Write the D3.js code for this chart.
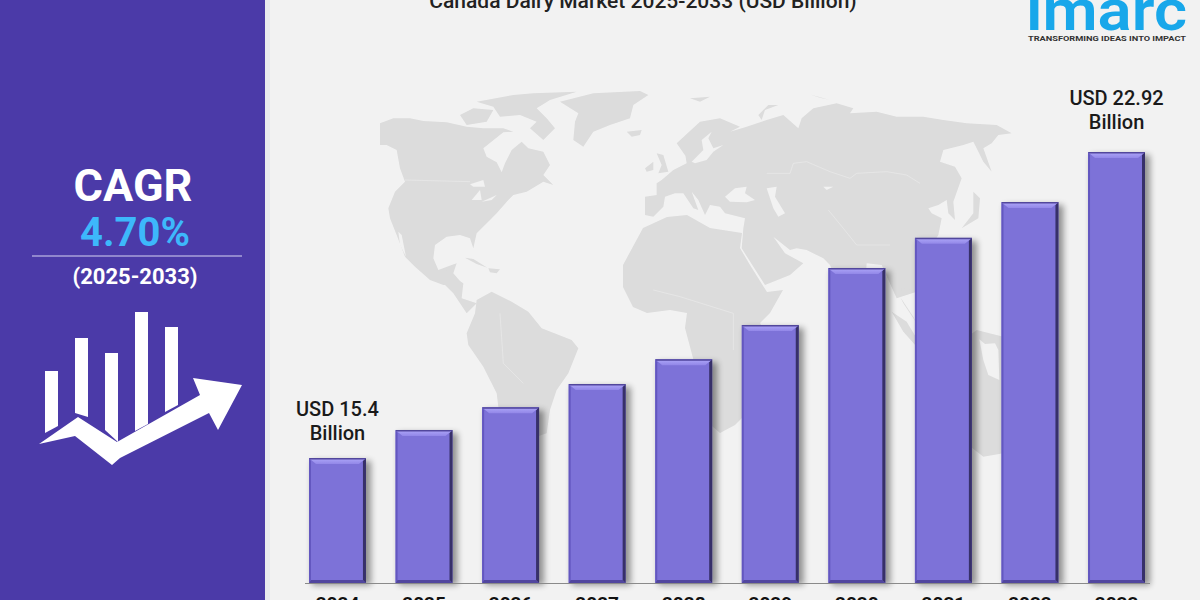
<!DOCTYPE html>
<html>
<head>
<meta charset="utf-8">
<script src="https://cdn.jsdelivr.net/npm/d3@7"></script>
<style>
  html, body { margin: 0; padding: 0; background: #f2f2f2; overflow: hidden; }
  svg { display: block; }
  text { font-family: Roboto, sans-serif; }
</style>
</head>
<body>
<svg id="chart" width="1200" height="600"></svg>
<script>
var years = ["2024", "2025", "2026", "2027", "2028", "2029", "2030", "2031", "2032", "2033"];
var marketSize = [15.4, 16.09, 16.65, 17.22, 17.83, 18.67, 20.07, 20.81, 21.69, 22.92];
var startLabel = ["USD 15.4", "Billion"];
var endLabel = ["USD 22.92", "Billion"];
var chartTitle = "Canada Dairy Market 2025-2033 (USD Billion)";
var cagrText = ["CAGR", "4.70%", "(2025-2033)"];

var LAND = "#dcdcdc", SEA = "#f2f2f2", PANEL = "#4b3aa8";

var svg = d3.select("#chart");

var defs = svg.append("defs");
defs.append("filter").attr("id", "soft")
    .append("feGaussianBlur").attr("stdDeviation", 0.6);
defs.append("filter").attr("id", "shadow").attr("x", "-30%").attr("width", "160%")
    .append("feGaussianBlur").attr("stdDeviation", 3);
var glow = defs.append("linearGradient").attr("id", "topGlow").attr("x1", 0).attr("x2", 0).attr("y1", 0).attr("y2", 1);
glow.append("stop").attr("offset", 0).attr("stop-color", "#aaa2f6");
glow.append("stop").attr("offset", 1).attr("stop-color", "#9287e8");

svg.append("rect").attr("width", 1200).attr("height", 600).attr("fill", SEA);

// ---- background world map, rough tracing: [originX, originY, scale, points]
var landRings = [
    // north america
    [380, 85, 1/3, [[0,115],[40,100],[90,100],[130,108],[200,112],[260,125],[310,130],[370,130],[400,140],[370,142],[310,190],[320,215],[350,232],[365,262],[375,235],[395,195],[425,170],[445,190],[490,200],[510,240],[490,270],[520,300],[490,290],[440,320],[400,330],[385,345],[350,385],[330,405],[290,445],[280,490],[270,460],[240,450],[200,455],[165,480],[160,520],[175,555],[215,540],[230,535],[220,565],[250,600],[190,600],[150,585],[105,545],[75,515],[50,450],[30,400],[25,370],[45,320],[75,290],[60,250],[50,195],[20,180],[0,180]]],
    // arctic islands
    [380, 85, 1/3, [[240,90],[280,70],[340,75],[320,110],[260,120]]],
    [380, 85, 1/3, [[290,50],[400,30],[460,25],[590,20],[510,45],[470,70],[500,100],[525,130],[490,165],[450,130],[470,110],[420,90],[360,95],[340,65]]],
    // greenland, iceland, britain, ireland
    [380, 85, 1/3, [[540,50],[640,25],[780,18],[805,30],[760,60],[750,100],[690,120],[640,140],[610,185],[580,165],[585,110],[595,85]]],
    [380, 85, 1/3, [[740,140],[785,135],[780,150],[755,155]]],
    [380, 85, 1/3, [[830,205],[850,210],[865,260],[835,265],[845,240]]],
    [380, 85, 1/3, [[795,250],[820,230],[820,255],[800,260]]],
    // caribbean
    [380, 85, 1/3, [[255,518],[280,522],[322,548],[290,537]]],
    [380, 85, 1/3, [[325,550],[360,553],[350,565],[330,562]]],
    // central america into south america
    [440, 270, 1/3, [[0,30],[20,0],[45,25],[70,40],[65,85],[110,100],[80,130],[40,70]]],
    [440, 270, 1/3, [[80,190],[105,130],[110,90],[155,65],[215,95],[265,125],[305,175],[395,210],[415,235],[385,310],[350,360],[330,420],[320,490],[290,500],[230,480],[175,410],[170,370],[130,290],[85,225]]],
    // eurasia
    [690, 85, 1/3, [[-40,175],[30,110],[90,100],[150,125],[120,140],[170,125],[230,105],[280,90],[325,130],[335,100],[370,70],[440,55],[490,70],[480,85],[560,80],[620,95],[700,95],[760,105],[830,115],[920,120],[965,145],[925,150],[905,175],[880,190],[905,260],[880,230],[860,190],[850,170],[820,180],[760,195],[750,230],[795,245],[815,280],[790,350],[795,405],[775,385],[770,345],[745,360],[715,370],[725,385],[755,400],[745,450],[700,520],[680,620],[620,640],[575,540],[530,535],[520,700],[490,700],[420,540],[400,520],[350,495],[320,490],[300,495],[250,455],[285,505],[340,535],[300,570],[225,600],[155,490],[160,430],[165,400],[105,385],[90,365],[60,360],[45,390],[25,345],[5,320],[25,375],[10,370],[-20,325],[-45,325],[-75,335],[-80,365],[-110,395],[-135,390],[-135,335],[-100,330],[-100,295],[-85,285],[-50,255],[-10,235],[-15,205],[-5,225]]],
    // novaya zemlya, svalbard, japan
    [690, 85, 1/3, [[205,90],[235,60],[265,60],[225,75],[215,105]]],
    [690, 85, 1/3, [[0,40],[60,35],[30,50]]],
    [690, 85, 1/3, [[358,28],[420,45],[390,38]]],
    [690, 85, 1/3, [[850,320],[870,340],[865,400],[815,430],[850,385]]],
    // africa
    [0, 0, 1, [[623,265],[643,228],[667,217],[687,215],[710,228],[742,233],[740,248],[750,265],[767,292],[783,290],[770,313],[760,323],[775,350],[760,400],[735,425],[720,433],[705,420],[700,390],[693,358],[685,328],[687,313],[670,310],[647,313],[633,307],[623,287]]],
    // south east asia and sumatra
    [750, 260, 1/3, [[420,0],[500,0],[500,90],[455,85],[450,110],[490,170],[500,190],[460,130],[425,60]]],
    [750, 260, 1/3, [[425,155],[470,185],[500,235],[500,260],[460,215]]],
    // australia and new guinea
    [750, 260, 1/3, [[560,300],[680,210],[760,230],[800,300],[860,500],[760,580],[700,590],[560,480]]]
];
var seaRings = [
    // great lakes
    [380, 85, 1/3, [[270,298],[310,285],[315,305],[280,305]]],
    [380, 85, 1/3, [[275,345],[300,315],[305,345]]],
    [380, 85, 1/3, [[305,350],[350,330],[335,345]]],
    // gulf of california
    [380, 85, 1/3, [[55,440],[65,450],[78,515],[60,480]]],
    // baltic, black sea, caspian, aral
    [690, 85, 1/3, [[5,230],[40,195],[35,165],[65,140],[55,160],[70,190],[100,180],[70,200],[50,225],[15,235]]],
    [690, 85, 1/3, [[105,335],[135,310],[170,305],[165,325],[195,345],[170,352],[120,350]]],
    [690, 85, 1/3, [[230,310],[260,305],[255,335],[285,385],[265,395],[250,370]]],
    [690, 85, 1/3, [[400,305],[430,305],[410,315]]],
    // gulf of carpentaria
    [750, 260, 1/3, [[688,238],[705,252],[735,250],[745,270],[748,360],[715,345],[700,300]]]
];
var borderLines = [
    [380, 85, 1/3, [[75,285],[270,290]]],
    [690, 85, 1/3, [[230,265],[300,265],[310,235],[350,230],[420,260],[480,280],[500,265],[590,260],[650,270],[690,295]]],
    [690, 85, 1/3, [[415,375],[460,430],[500,480],[600,480]]],
    [440, 270, 1/3, [[180,130],[190,280],[250,340]]],
    [440, 270, 1/3, [[640,60],[720,80],[880,130],[880,240]]]
];

function ringPoints(r) {
    return r[3].map(function (p) { return [r[0] + p[0] * r[2], r[1] + p[1] * r[2]]; });
}

var closedLine = d3.line().curve(d3.curveLinearClosed);
var openLine = d3.line();

var mapG = svg.append("g").attr("filter", "url(#soft)");
mapG.selectAll("path.land").data(landRings).enter().append("path")
    .attr("class", "land")
    .attr("d", function (d) { return closedLine(ringPoints(d)); })
    .attr("fill", LAND);
mapG.selectAll("path.sea").data(seaRings).enter().append("path")
    .attr("class", "sea")
    .attr("d", function (d) { return closedLine(ringPoints(d)); })
    .attr("fill", SEA);
mapG.selectAll("path.border").data(borderLines).enter().append("path")
    .attr("class", "border")
    .attr("d", function (d) { return openLine(ringPoints(d)); })
    .attr("fill", "none")
    .attr("stroke", SEA)
    .attr("stroke-opacity", 0.6)
    .attr("stroke-width", 0.7);

// ---- scales
var x = d3.scaleBand().domain(years).range([309, 1145]).paddingInner(0.342).paddingOuter(0);
var y = d3.scaleLinear().domain([12.33, 22.92]).range([583, 152]);

// ---- bars
var rows = years.map(function (yr, i) { return { year: yr, value: marketSize[i] }; });
var barG = svg.selectAll("g.bar").data(rows).enter().append("g").attr("class", "bar");

barG.append("rect")
    .attr("x", function (d) { return x(d.year) + 3; })
    .attr("y", function (d) { return y(d.value) + 3; })
    .attr("width", x.bandwidth() + 2)
    .attr("height", function (d) { return y.range()[0] - y(d.value) - 1; })
    .attr("fill", "#000")
    .attr("opacity", 0.4)
    .attr("filter", "url(#shadow)");

barG.append("rect")
    .attr("x", function (d) { return x(d.year); })
    .attr("y", function (d) { return y(d.value); })
    .attr("width", x.bandwidth())
    .attr("height", function (d) { return y.range()[0] - y(d.value); })
    .attr("fill", "#7d72d8");

function bevel(cls, color, pts) {
    barG.append("path").attr("class", cls).attr("fill", color)
        .attr("d", function (d) { return closedLine(pts(x(d.year), x(d.year) + x.bandwidth(), y(d.value), y.range()[0])); });
}
bevel("left", "#6357c0", function (a, b, t, f) { return [[a, t], [a + 2, t + 3], [a + 2, f - 3], [a, f]]; });
bevel("bottom", "#51469f", function (a, b, t, f) { return [[a, f], [a + 2, f - 3], [b - 3, f - 3], [b, f]]; });
bevel("right", "#373069", function (a, b, t, f) { return [[b, t], [b - 3, t + 3], [b - 3, f - 3], [b, f]]; });
bevel("top", "url(#topGlow)", function (a, b, t, f) { return [[a + 1, t + 1], [b - 1, t + 1], [b - 7, t + 6], [a + 7, t + 6]]; });
bevel("edge", "#52479c", function (a, b, t, f) { return [[a, t], [b, t], [b - 1, t + 1.5], [a + 1, t + 1.5]]; });

// ---- axis
var axisG = svg.append("g")
    .attr("transform", "translate(0," + y.range()[0] + ")")
    .call(d3.axisBottom(x).tickSize(0).tickPadding(14));
axisG.select(".domain").attr("d", "M305,0.5H1150").attr("stroke", "#8a8a8a").attr("stroke-width", 1.2);
axisG.selectAll("text")
    .attr("font-family", "Roboto, sans-serif")
    .attr("font-size", 19)
    .attr("font-weight", 700)
    .attr("fill", "#111");

// ---- value labels
function valueLabel(lines, year, value, lift) {
    var cx = x(year) + x.bandwidth() / 2;
    svg.append("g").selectAll("text").data(lines).enter().append("text")
        .attr("x", cx)
        .attr("y", function (d, i) { return y(value) - lift + i * 24; })
        .attr("text-anchor", "middle")
        .attr("font-size", 20)
        .attr("font-weight", 500)
        .attr("fill", "#1a1a1a")
        .text(function (d) { return d; });
}
valueLabel(startLabel, years[0], marketSize[0], 42);
valueLabel(endLabel, years[years.length - 1], marketSize[marketSize.length - 1], 47);

// ---- title and logo, both cut off by the top edge in the original
svg.append("text").attr("x", 643).attr("y", 8)
    .attr("text-anchor", "middle").attr("font-size", 21).attr("font-weight", 500)
    .attr("fill", "#222").text(chartTitle);
svg.append("text").attr("x", 1026).attr("y", 30)
    .attr("font-family", "Inter, sans-serif").attr("font-size", 58).attr("font-weight", 600)
    .attr("textLength", 161).attr("lengthAdjust", "spacingAndGlyphs")
    .attr("fill", "#18a7ea").text("imarc");
svg.append("text").attr("x", 1028).attr("y", 40.5)
    .attr("font-size", 8).attr("font-weight", 700)
    .attr("textLength", 158).attr("lengthAdjust", "spacingAndGlyphs")
    .attr("fill", "#333").text("TRANSFORMING IDEAS INTO IMPACT");

// ---- left panel
svg.append("rect").attr("x", 265).attr("width", 5).attr("height", 600).attr("fill", "#eaeaef");
svg.append("rect").attr("width", 265).attr("height", 600).attr("fill", PANEL);

svg.append("text").attr("x", 133).attr("y", 201)
    .attr("text-anchor", "middle").attr("font-size", 45).attr("font-weight", 700)
    .attr("fill", "#fff").text(cagrText[0]);
svg.append("text").attr("x", 135).attr("y", 246)
    .attr("text-anchor", "middle").attr("font-size", 40).attr("font-weight", 700)
    .attr("fill", "#3db8fb").text(cagrText[1]);
svg.append("line").attr("x1", 32).attr("x2", 242).attr("y1", 256).attr("y2", 256)
    .attr("stroke", "#d8d4f2").attr("stroke-width", 1.2);
svg.append("text").attr("x", 135).attr("y", 284)
    .attr("text-anchor", "middle").attr("font-size", 22).attr("font-weight", 700)
    .attr("fill", "#fff").text(cagrText[2]);

// growth icon
var iconShapes = [
    [[45,371],[58,371],[58,426],[45,433]],
    [[75,338],[88,338],[88,417],[75,413]],
    [[105,353],[118,353],[118,442],[105,430]],
    [[135,312],[148,312],[148,424],[135,431]],
    [[165,327],[178,327],[178,405],[165,412]],
    [[39,444],[78,417],[117,442],[200,395],[193,378],[242,385],[218,430],[209,413],[120,458],[112,465],[75,436]]
];
svg.append("g").selectAll("path").data(iconShapes).enter().append("path")
    .attr("d", function (d) { return closedLine(d); })
    .attr("fill", "#fff");
</script>
</body>
</html>
